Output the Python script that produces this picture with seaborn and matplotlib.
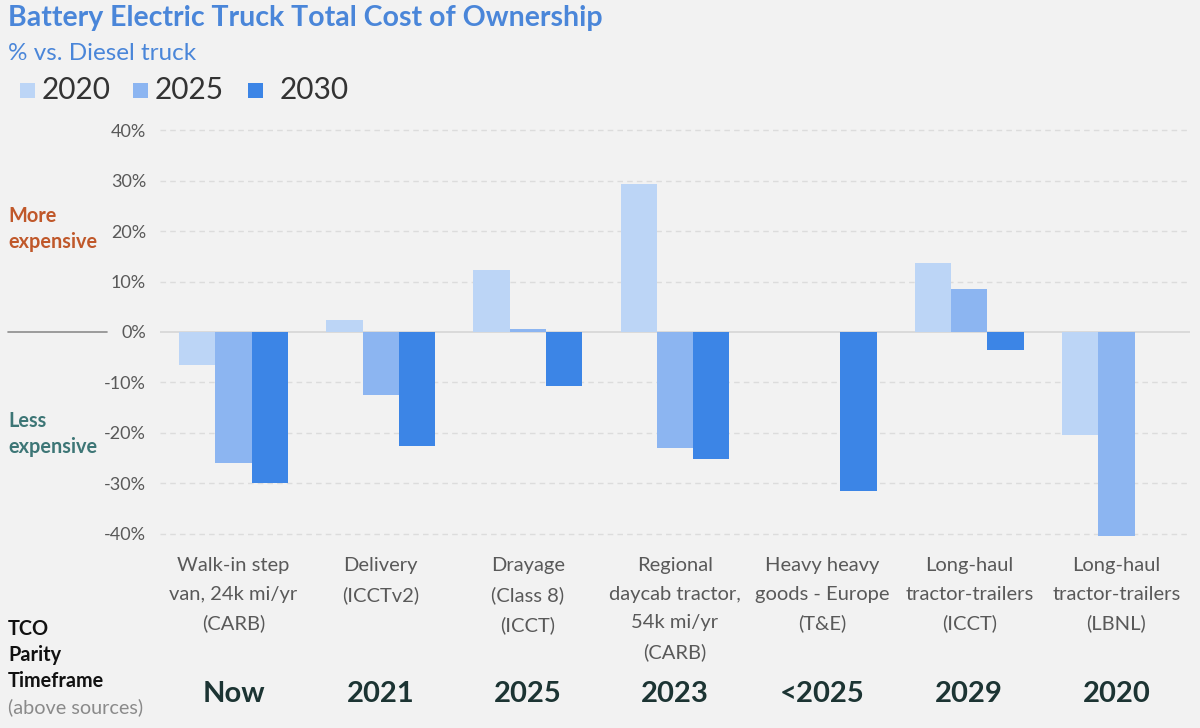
import numpy as np
import pandas as pd
import matplotlib
matplotlib.use("Agg")
import matplotlib.pyplot as plt
import matplotlib.transforms as mtransforms
from matplotlib.patches import Rectangle
import seaborn as sns

# ---- data ----
categories = [
    "Walk-in step\nvan, 24k mi/yr\n(CARB)",
    "Delivery\n(ICCTv2)",
    "Drayage\n(Class 8)\n(ICCT)",
    "Regional\ndaycab tractor,\n54k mi/yr\n(CARB)",
    "Heavy heavy\ngoods - Europe\n(T&E)",
    "Long-haul\ntractor-trailers\n(ICCT)",
    "Long-haul\ntractor-trailers\n(LBNL)",
]
parity = ["Now", "2021", "2025", "2023", "<2025", "2029", "2020"]
years = ["2020", "2025", "2030"]
vals_2020 = [-6.6, 2.4, 12.3, 29.4, np.nan, 13.7, -20.5]
vals_2025 = [-26.1, -12.5, 0.6, -23.1, np.nan, 8.5, -40.4]
vals_2030 = [-29.9, -22.7, -10.7, -25.3, -31.6, -3.6, np.nan]
yticks = [-40, -30, -20, -10, 0, 10, 20, 30, 40]

colors = ["#bcd5f6", "#8cb5f1", "#3c85e6"]
BG = "#f2f2f2"

rows = []
for yr, vals in zip(years, [vals_2020, vals_2025, vals_2030]):
    for c, v in zip(categories, vals):
        rows.append({"cat": c, "year": yr, "val": v})
df = pd.DataFrame(rows).dropna()

sns.set_style("white")
FONT = ["Lato", "DejaVu Sans"]
plt.rcParams["font.family"] = FONT

W, H = 1200, 728
fig = plt.figure(figsize=(W / 100, H / 100), dpi=100, facecolor=BG)
ax_left, ax_right = 160 / W, 1190 / W
ax_bottom, ax_top = 1 - 543.6 / H, 1 - 120.4 / H
ax = fig.add_axes([ax_left, ax_bottom, ax_right - ax_left, ax_top - ax_bottom])
ax.set_facecolor(BG)

sns.barplot(data=df, x="cat", y="val", hue="year", order=categories,
            hue_order=years, palette=colors, width=0.74, saturation=1,
            dodge=True, ax=ax, legend=False, zorder=3, linewidth=0,
            edgecolor="none")

ax.set_ylim(-42, 42)
ax.set_xlim(-0.5, len(categories) - 0.5)
ax.set_yticks(yticks)
ax.set_yticklabels([f"{t}%" for t in yticks], color="#595959", fontsize=13)
for t in yticks:
    if t == 0:
        ax.axhline(0, color="#d6d6d6", lw=1.2, zorder=2)
    else:
        ax.axhline(t, color="#dcdcdc", lw=1.0, ls=(0, (4, 3)), zorder=1)
ax.tick_params(axis="y", length=0, pad=10)
ax.tick_params(axis="x", length=0, pad=10)
ax.set_xticks(range(len(categories)))
ax.set_xticklabels(categories, color="#595959", fontsize=14.5, va="top")
for lbl in ax.get_xticklabels():
    lbl.set_linespacing(1.8)
ax.set_xlabel("")
ax.set_ylabel("")
for s in ax.spines.values():
    s.set_visible(False)

# parity labels
trans = mtransforms.blended_transform_factory(ax.transData, fig.transFigure)
for i, p in enumerate(parity):
    ax.text(i, 1 - 694 / H, p, transform=trans, ha="center", va="center",
            fontsize=21, fontweight="bold", color="#1c3433")

# titles
fig.text(8 / W, 1 - 18 / H, "Battery Electric Truck Total Cost of Ownership",
         fontsize=20.5, fontweight="bold", color="#4a86d9", ha="left", va="center")
fig.text(8 / W, 1 - 54 / H, "% vs. Diesel truck", fontsize=17.5,
         color="#4a86d9", ha="left", va="center")

# legend
leg_items = [(20, 42), (133, 155), (248, 280)]
for (sx, tx), yr, col in zip(leg_items, years, colors):
    fig.patches.append(Rectangle((sx / W, 1 - 98 / H), 15 / W, 15 / H,
                                 transform=fig.transFigure, facecolor=col,
                                 edgecolor="none"))
    fig.text(tx / W, 1 - 90 / H, yr, fontsize=21.5, color="#333333",
             ha="left", va="center")

# side annotations
SZ = 14.3
fig.text(8 / W, 1 - 216 / H, "More", fontsize=SZ, fontweight="bold",
         color="#c0582a", ha="left", va="center")
fig.text(8 / W, 1 - 242 / H, "expensive", fontsize=SZ, fontweight="bold",
         color="#c0582a", ha="left", va="center")
fig.text(8 / W, 1 - 421 / H, "Less", fontsize=SZ, fontweight="bold",
         color="#3d7676", ha="left", va="center")
fig.text(8 / W, 1 - 447 / H, "expensive", fontsize=SZ, fontweight="bold",
         color="#3d7676", ha="left", va="center")
fig.add_artist(plt.Line2D([8 / W, 107 / W], [1 - 332 / H, 1 - 332 / H],
                          transform=fig.transFigure, color="#8c8c8c", lw=1.2))

fig.text(8 / W, 1 - 629 / H, "TCO", fontsize=SZ, fontweight="bold",
         color="#111111", ha="left", va="center")
fig.text(8 / W, 1 - 655 / H, "Parity", fontsize=SZ, fontweight="bold",
         color="#111111", ha="left", va="center")
fig.text(8 / W, 1 - 681 / H, "Timeframe", fontsize=SZ, fontweight="bold",
         color="#111111", ha="left", va="center")
fig.text(8 / W, 1 - 707 / H, "(above sources)", fontsize=SZ,
         color="#8a8a8a", ha="left", va="center")

fig.savefig("out.png", dpi=100, facecolor=BG)
